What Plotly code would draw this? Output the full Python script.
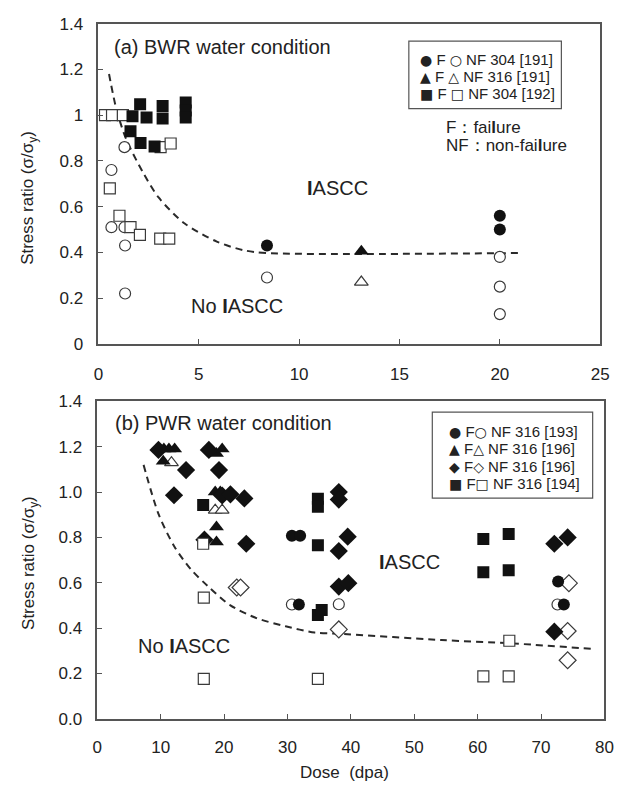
import plotly.graph_objects as go

W, H = 631, 798

# ---------------- Data: (a) BWR ----------------
a_fc_x = [8.4, 20.0, 20.0]
a_fc_y = [0.43, 0.56, 0.50]
a_oc_x = [0.95, 1.3, 0.65, 0.65, 1.3, 1.33, 1.33, 8.4, 20.0, 20.0, 20.0]
a_oc_y = [1.0, 0.86, 0.76, 0.51, 0.51, 0.43, 0.22, 0.29, 0.38, 0.25, 0.13]
a_ft_x = [13.1]
a_ft_y = [0.405]
a_ot_x = [13.1]
a_ot_y = [0.27]
a_fs_x = [1.7, 2.08, 2.4, 3.2, 3.2, 4.35, 4.35, 4.35, 1.6, 2.1, 2.8]
a_fs_y = [0.995, 1.047, 0.99, 1.04, 0.985, 1.055, 1.02, 0.99, 0.93, 0.878, 0.863]
a_os_x = [0.33, 0.68, 1.22, 3.1, 3.6, 0.57, 1.05, 1.6, 2.07, 3.08, 3.53]
a_os_y = [1.0, 1.0, 1.0, 0.86, 0.876, 0.68, 0.56, 0.51, 0.476, 0.46, 0.46]
a_curve_x = [0.53, 0.9, 1.38, 2.2, 3.0, 4.3, 5.9, 7.2, 8.35, 20.9]
a_curve_y = [1.18, 1.025, 0.896, 0.753, 0.64, 0.526, 0.447, 0.41, 0.397, 0.397]

# ---------------- Data: (b) PWR ----------------
b_fc_x = [30.7, 32.0, 31.8, 72.7, 73.6]
b_fc_y = [0.807, 0.807, 0.504, 0.605, 0.504]
b_oc_x = [30.7, 38.1, 72.6]
b_oc_y = [0.504, 0.505, 0.504]
b_ft_x = [10.5, 11.3, 12.2, 10.4, 18.8, 19.7, 18.6, 19.4, 18.8, 18.8]
b_ft_y = [1.19, 1.19, 1.19, 1.136, 1.17, 1.19, 1.0, 1.0, 0.846, 0.78]
b_ot_x = [11.7, 18.6, 19.7]
b_ot_y = [1.13, 0.92, 0.92]
b_fd_x = [9.65, 14.0, 12.1, 17.6, 19.2, 19.7, 21.0, 23.2, 16.9, 23.5,
          38.1, 38.1, 39.5, 38.1, 38.1, 39.6, 72.1, 74.2, 72.1]
b_fd_y = [1.186, 1.097, 0.986, 1.186, 1.097, 0.985, 0.99, 0.972, 0.79, 0.772,
          1.0, 0.967, 0.803, 0.74, 0.583, 0.598, 0.772, 0.80, 0.384]
b_od_x = [22.0, 22.6, 38.1, 74.4, 74.2, 74.2]
b_od_y = [0.579, 0.579, 0.394, 0.598, 0.387, 0.258]
b_fs_x = [16.7, 34.8, 34.8, 34.8, 34.8, 35.4, 60.9, 64.9, 60.9, 64.9]
b_fs_y = [0.943, 0.97, 0.935, 0.765, 0.458, 0.48, 0.793, 0.815, 0.646, 0.655]
b_os_x = [16.7, 16.8, 16.8, 34.8, 65.0, 60.9, 64.9]
b_os_y = [0.772, 0.534, 0.176, 0.176, 0.344, 0.187, 0.187]
b_curve_x = [7.3, 9.7, 12.2, 14.8, 17.4, 21.0, 25.1, 29.7, 34.3, 38.1, 54.3, 65.0, 78.2]
b_curve_y = [1.12, 0.90, 0.758, 0.658, 0.586, 0.50, 0.444, 0.408, 0.38, 0.375, 0.347, 0.333, 0.308]

a_ticks_x = [0, 5, 10, 15, 20, 25]
a_ticks_y = [0, 0.2, 0.4, 0.6, 0.8, 1, 1.2, 1.4]
b_ticks_x = [0, 10, 20, 30, 40, 50, 60, 70, 80]
b_ticks_y = [0, 0.2, 0.4, 0.6, 0.8, 1.0, 1.2, 1.4]

# legend rows: (filled glyph, open glyph, label)
legend_a = [("●", "○", "NF 304 [191]"), ("▲", "△", "NF 316 [191]"), ("■", "□", "NF 304 [192]")]
legend_b = [("●", "○", "NF 316 [193]"), ("▲", "△", "NF 316 [196]"),
            ("◆", "◇", "NF 316 [196]"), ("■", "□", "NF 316 [194]")]

FONT = "Liberation Sans, Arial, sans-serif"
BLACK = "#111111"
OPEN_LINE = "#3a3a3a"
AX = "#555555"


def px(x):
    return x / W


def py(y):
    return 1 - y / H


fig = go.Figure()


def add_markers(x, y, symbol, size, filled, xa, ya):
    if filled:
        marker = dict(symbol=symbol, size=size, color=BLACK, line=dict(width=0))
    else:
        marker = dict(symbol=symbol, size=size, color="white",
                      line=dict(width=1.2, color=OPEN_LINE))
    fig.add_trace(go.Scatter(x=x, y=y, mode="markers", marker=marker,
                             xaxis=xa, yaxis=ya, showlegend=False, hoverinfo="skip"))


def add_curve(x, y, xa, ya):
    fig.add_trace(go.Scatter(x=x, y=y, mode="lines",
                             line=dict(color="#2a2a2a", width=2, dash="7px,5px", shape="spline", smoothing=0.8),
                             xaxis=xa, yaxis=ya, showlegend=False, hoverinfo="skip"))


# (a)
add_curve(a_curve_x, a_curve_y, "x", "y")
add_markers(a_oc_x, a_oc_y, "circle", 11, False, "x", "y")
add_markers(a_os_x, a_os_y, "square", 11, False, "x", "y")
add_markers(a_ot_x, a_ot_y, "triangle-up", 12, False, "x", "y")
add_markers(a_fc_x, a_fc_y, "circle", 12, True, "x", "y")
add_markers(a_fs_x, a_fs_y, "square", 12, True, "x", "y")
add_markers(a_ft_x, a_ft_y, "triangle-up", 13, True, "x", "y")

# (b)
add_curve(b_curve_x, b_curve_y, "x2", "y2")
add_markers(b_oc_x, b_oc_y, "circle", 11, False, "x2", "y2")
add_markers(b_ot_x, b_ot_y, "triangle-up", 12, False, "x2", "y2")
add_markers(b_od_x, b_od_y, "diamond", 13, False, "x2", "y2")
add_markers(b_fc_x, b_fc_y, "circle", 12, True, "x2", "y2")
add_markers(b_ft_x, b_ft_y, "triangle-up", 13, True, "x2", "y2")
add_markers(b_fd_x, b_fd_y, "diamond", 14, True, "x2", "y2")
add_markers(b_fs_x, b_fs_y, "square", 12, True, "x2", "y2")
add_markers(b_os_x, b_os_y, "square", 11, False, "x2", "y2")

axis_common = dict(showline=True, mirror=True, linecolor=AX, linewidth=1.5,
                   ticks="inside", ticklen=5, tickcolor=AX, tickwidth=1.2,
                   showgrid=False, zeroline=False,
                   tickfont=dict(family=FONT, size=17, color="#222222"))

fig.update_layout(
    width=W, height=H,
    margin=dict(l=0, r=0, t=0, b=0),
    paper_bgcolor="white", plot_bgcolor="white",
    font=dict(family=FONT, color="#222222"),
    xaxis=dict(domain=[px(95.5), px(608.7)], range=[0, 25], tickvals=a_ticks_x,
               anchor="y", ticklabelstandoff=14, **axis_common),
    yaxis=dict(domain=[py(343), py(15)], range=[0, 1.4], tickvals=a_ticks_y,
               anchor="x", ticklabelstandoff=10, **axis_common),
    xaxis2=dict(domain=[px(94.4), px(613)], range=[0, 80], tickvals=b_ticks_x,
                anchor="y2", ticklabelstandoff=12, **axis_common),
    yaxis2=dict(domain=[py(727), py(402)], range=[0, 1.4], tickvals=b_ticks_y,
                tickformat=".1f", anchor="x2", ticklabelstandoff=10, **axis_common),
)

ann = []
big = dict(family=FONT, size=20, color="#222222")
mid = dict(family=FONT, size=17, color="#222222")
leg = dict(family=FONT, size=15, color="#222222")


def note(x, y, text, font, xref="paper", yref="paper", xanchor="center", angle=0):
    ann.append(dict(x=x, y=y, xref=xref, yref=yref, text=text, showarrow=False,
                    xanchor=xanchor, yanchor="middle", textangle=angle, font=font))


IASCC = "<b>I</b>ASCC"
# panel titles & region labels
note(0.7, 1.30, "(a) BWR water condition", big, "x", "y", "left")
note(11.9, 0.68, IASCC, big, "x", "y")
note(6.9, 0.165, "No " + IASCC, big, "x", "y")
note(2.4, 1.305, "(b) PWR water condition", big, "x2", "y2", "left")
note(49.2, 0.69, IASCC, big, "x2", "y2")
note(13.7, 0.32, "No " + IASCC, big, "x2", "y2")

# axis titles
ytitle = "Stress ratio (σ/σ<sub>y</sub>)"
note(px(25), py(193), ytitle, mid, angle=-90)
note(px(25), py(567), ytitle, mid, angle=-90)
note(px(347), py(782), "Dose\u00a0 (dpa)", mid)


def leg_row(f, o, label, sep):
    g = '<span style="font-family:DejaVu Sans;font-size:14px">%s</span>'
    return g % f + " F" + sep + g % o + " " + label


# legend (a)
for i, (f, o, lab) in enumerate(legend_a):
    note(px(422), py(51.7 + i * 17.5), leg_row(f, o, lab, " "), leg, xanchor="left")
note(px(449), py(121.7), "F：fai<b>l</b>ure", mid, xanchor="left")
note(px(449), py(140), "NF：non-fai<b>l</b>ure", mid, xanchor="left")
# legend (b)
for i, (f, o, lab) in enumerate(legend_b):
    note(px(452), py(432.7 + i * 17.8), leg_row(f, o, lab, ""), leg, xanchor="left")

fig.update_layout(annotations=ann)

fig.update_layout(shapes=[
    dict(type="rect", xref="paper", yref="paper", x0=px(413), x1=px(569), y0=py(102), y1=py(33),
         line=dict(color=AX, width=1.2), fillcolor="rgba(0,0,0,0)"),
    dict(type="rect", xref="paper", yref="paper", x0=px(437), x1=px(601), y0=py(501), y1=py(413),
         line=dict(color=AX, width=1.2), fillcolor="rgba(0,0,0,0)"),
])

fig.write_html("out.html", config={"displayModeBar": False},
               post_script="document.body.style.margin='0';document.body.style.overflow='hidden';")
